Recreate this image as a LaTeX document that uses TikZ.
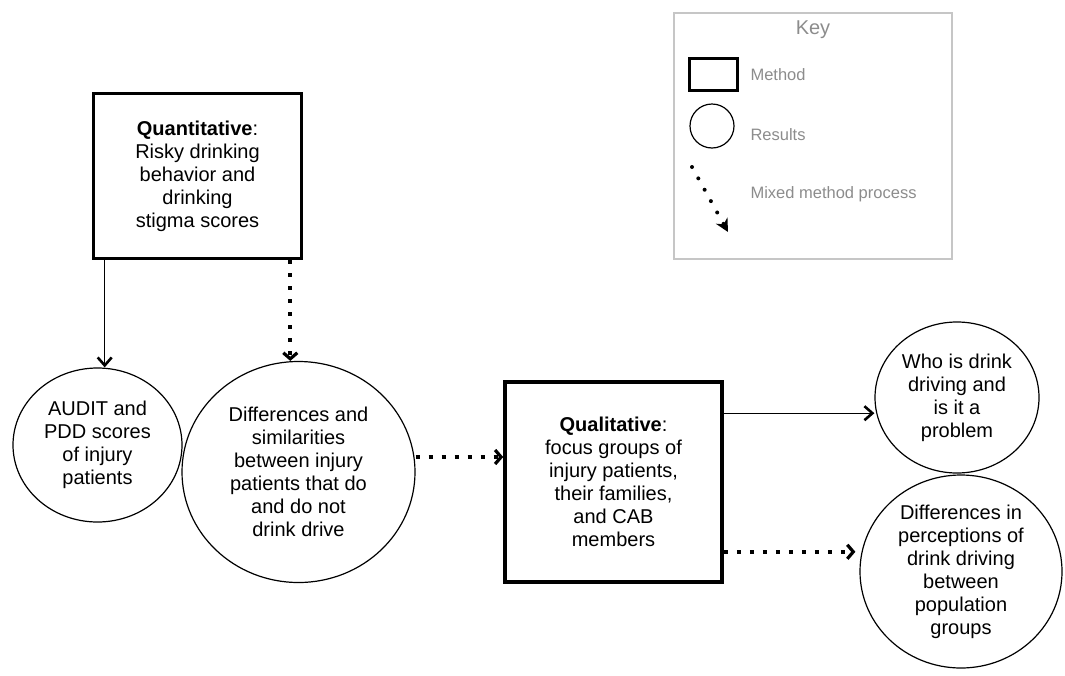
\documentclass[tikz,border=0pt]{standalone}
\usepackage{fontspec}
\setmainfont{Liberation Sans}
\usepackage{xcolor}
\usepackage{tikz}
\usetikzlibrary{arrows.meta,shapes.geometric}

\definecolor{keygray}{HTML}{8C8C8C}
\definecolor{keyframe}{HTML}{C6C6C6}

\begin{document}
\begin{tikzpicture}[x=1pt, y=-1pt,
    method/.style={draw, line width=3.6pt, align=center, inner sep=0pt,
        font=\fontsize{20}{23}\selectfont},
    result/.style={draw, ellipse, line width=1.2pt, align=center, inner sep=0pt,
        font=\fontsize{20}{23}\selectfont},
    keytext/.style={anchor=west, text=keygray, font=\fontsize{16.5}{19}\selectfont},
    plainarrow/.style={line width=1.4pt,
        -{Straight Barb[length=8pt,width=14pt,line width=2.6pt]}},
    mixedarrow/.style={line width=4pt, dash pattern=on 4pt off 9pt,
        -{Straight Barb[length=6pt,width=14pt,line width=3.2pt]}}]
    \useasboundingbox (0,0) rectangle (1065,675);

    % Key
    \node[draw=keyframe, line width=1.3pt, minimum width=278pt, minimum height=246pt] (key) at (813,136) {};
    \node[text=keygray, font=\fontsize{20}{23}\selectfont] (keytitle) at (813,30) {Key};
    \node[draw, line width=3.8pt, minimum width=48pt, minimum height=32pt] (keymethod) at (713.5,74.5) {};
    \node[draw, circle, line width=1.2pt, minimum size=44pt] (keyresult) at (712,126) {};
    \coordinate (keyfrom) at (692,167);
    \coordinate (keyto) at (728,232);
    \draw[line width=4pt, line cap=round, dash pattern=on 0pt off 13pt,
        -{Stealth[length=13pt,width=13pt]}] (keyfrom) -- (keyto);
    \node[keytext] (keymethodtxt) at (747,75) {Method};
    \node[keytext] (keyresulttxt) at (747,135) {Results};
    \node[keytext] (keymixedtxt) at (747,194) {Mixed method process};

    % Quantitative strand
    \node[method, minimum width=208pt, minimum height=165pt] (quant) at (197.5,176)
        {\textbf{Quantitative}:\\Risky drinking\\behavior and\\drinking\\stigma scores};
    \node[result, minimum width=169pt, minimum height=154pt] (audit) at (97.5,445)
        {AUDIT and\\PDD scores\\of injury\\patients};
    \node[result, minimum width=233pt, minimum height=221pt] (diffs) at (298.5,472)
        {Differences and\\similarities\\between injury\\patients that do\\and do not\\drink drive};

    % Qualitative strand
    \node[method, minimum width=217pt, minimum height=200pt] (qual) at (613.5,482)
        {\textbf{Qualitative}:\\focus groups of\\injury patients,\\their families,\\and CAB\\members};
    \node[result, minimum width=164pt, minimum height=151pt] (who) at (957,397.5)
        {Who is drink\\driving and\\is it a\\problem};
    \node[result, minimum width=202pt, minimum height=193pt] (percep) at (961,571.5)
        {Differences in\\perceptions of\\drink driving\\between\\population\\groups};

    % Connectors
    \draw[plainarrow] ([xshift=13pt]quant.south west) -- ([xshift=13pt]quant.south west |- audit.north);
    \draw[mixedarrow] ([xshift=-13pt]quant.south east) -- ([xshift=-13pt]quant.south east |- diffs.north);
    \draw[mixedarrow] ([yshift=15pt]diffs.east) -- ([yshift=15pt]diffs.east -| qual.west);
    \draw[plainarrow] ([yshift=-33pt]qual.north east) -- ([yshift=-33pt]qual.north east -| who.west);
    \draw[mixedarrow] ([yshift=32pt]qual.south east) -- ([yshift=32pt,xshift=-4pt]qual.south east -| percep.west);
\end{tikzpicture}
\end{document}
